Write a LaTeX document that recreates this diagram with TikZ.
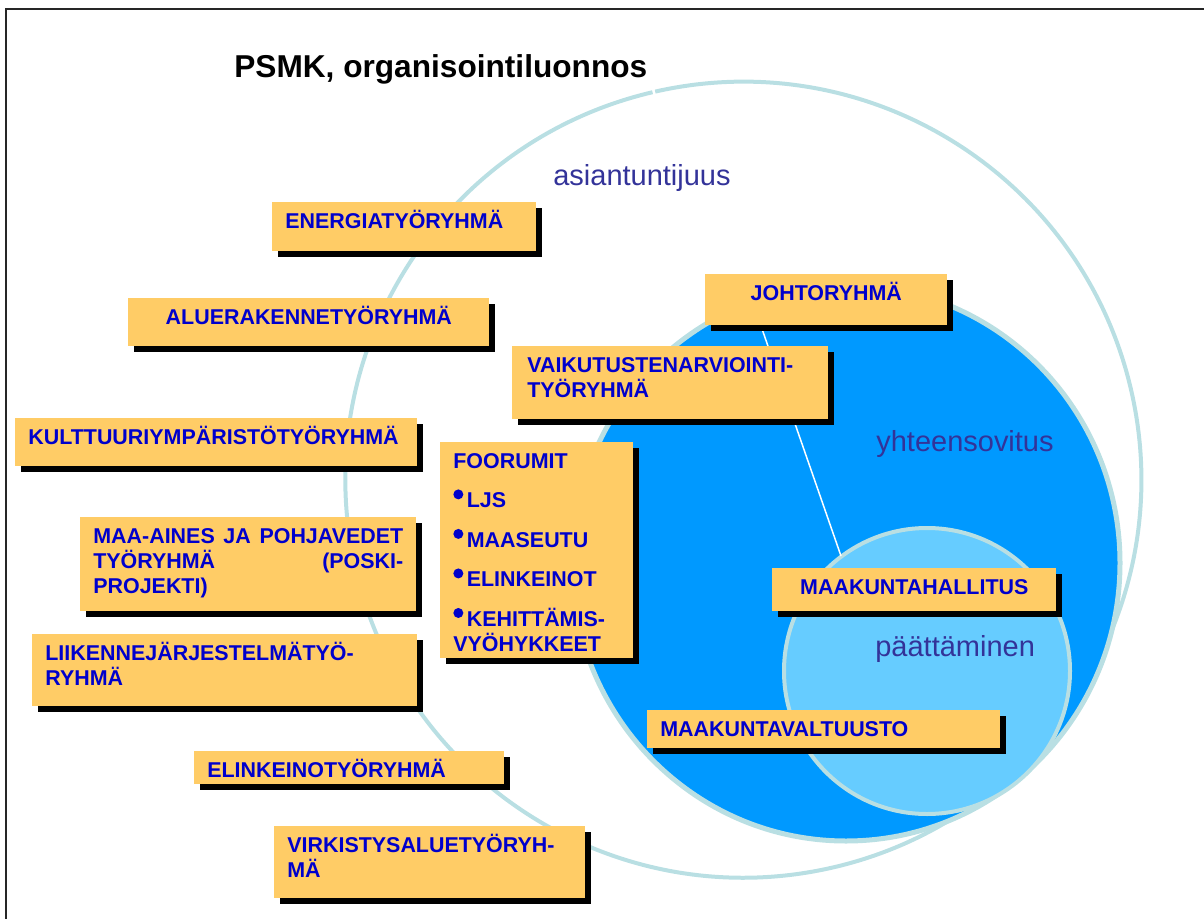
\documentclass[tikz,border=0pt]{standalone}
\usepackage{fontspec}
\setmainfont{Liberation Sans}
\usetikzlibrary{shadows}
\usepackage{xcolor}

\definecolor{boxorange}{RGB}{255,204,102}
\definecolor{boxtext}{RGB}{0,0,204}
\definecolor{ringteal}{RGB}{185,223,227}
\definecolor{midblue}{RGB}{0,153,255}
\definecolor{paleblue}{RGB}{102,204,255}
\definecolor{labelblue}{RGB}{51,51,153}

\tikzset{
  grp/.style={rectangle, fill=boxorange, text=boxtext, anchor=north west,
    font=\fontsize{12.2}{14.3}\selectfont\bfseries, align=left,
    inner xsep=0.26cm, inner ysep=0pt, text height=0.52cm,
    general shadow={fill=black, opacity=1, shadow xshift=0.12cm, shadow yshift=-0.12cm}},
  area/.style={text=labelblue, font=\fontsize{16.5}{18}\selectfont,
    anchor=base west, inner sep=0pt},
  ring/.style={draw=ringteal, line width=0.08cm}
}
\newcommand\fbul{\tikz[x=1cm, y=1cm, baseline=0pt]\fill[boxtext] (0.1,0.27) circle (0.1);\kern0.07cm}

\begin{document}
\begin{tikzpicture}[x=0.02cm, y=-0.02cm]
  \useasboundingbox (0,0) rectangle (1204,919);
  % frame
  \draw[line width=0.04cm, black!85] (6,919) -- (6,9) -- (1204,9);

  % circles
  \draw[ring] (655.2,91.6) arc[start angle=-102.8, end angle=256.8, radius=398];
  \draw[ring, fill=midblue, line width=0.1cm] (846,563) ellipse [x radius=274, y radius=278];
  \draw[ring, fill=paleblue] (927,671) circle (143);

  % link johtoryhma -- paattaminen
  \coordinate (jstart) at (761,326);
  \coordinate (rim) at (841,556);
  \draw[white, line width=0.03cm] (jstart) -- (rim);

  % groups
  \node[grp, text width=4.76cm, text depth=0.46cm] (energia) at (272,202) {ENERGIATYÖRYHMÄ};
  \node[grp, text width=6.7cm, text depth=0.44cm, align=center] (alue) at (128,298) {ALUERAKENNETYÖRYHMÄ};
  \node[grp, text width=7.52cm, text depth=0.44cm] (kulttuuri) at (15,418) {KULTTUURIYMPÄRISTÖTYÖRYHMÄ};
  \node[grp, text width=6.2cm, text depth=1.36cm] (maa) at (80,517)
    {MAA-AINES\hfill JA\hfill POHJAVEDET\\TYÖRYHMÄ\hfill(POSKI-\\PROJEKTI)};
  \node[grp, text width=7.18cm, text depth=0.92cm] (liikenne) at (32,634) {LIIKENNEJÄRJESTELMÄTYÖ-\\RYHMÄ};
  \node[grp, text width=5.68cm, text depth=0.14cm] (elinkeino) at (194,751) {ELINKEINOTYÖRYHMÄ};
  \node[grp, text width=5.7cm, text depth=0.92cm] (virkistys) at (274,826) {VIRKISTYSALUETYÖRYH-\\MÄ};
  \node[grp, text width=4.32cm, text depth=0.5cm, align=center] (johto) at (705,274) {JOHTORYHMÄ};
  \node[grp, text width=5.72cm, text depth=0.94cm, inner xsep=0.3cm] (vaikutus) at (512,346)
    {VAIKUTUSTENARVIOINTI-\\TYÖRYHMÄ};
  \node[grp, text width=3.34cm, text depth=3.8cm] (foorumit) at (440,442)
    {FOORUMIT\\[8.2pt]\fbul LJS\\[8.2pt]\fbul MAASEUTU\\[8.2pt]\fbul ELINKEINOT\\[8.2pt]\fbul KEHITTÄMIS-\\VYÖHYKKEET};
  \node[grp, text width=5.16cm, text depth=0.34cm, align=center] (hallitus) at (772,568) {MAAKUNTAHALLITUS};
  \node[grp, text width=6.54cm, text depth=0.24cm] (valtuusto) at (647,710) {MAAKUNTAVALTUUSTO};

  % areas
  \node[area] (asiantuntijuus) at (553,185) {asiantuntijuus};
  \node[area] (yhteensovitus) at (876,451) {yhteensovitus};
  \node[area] (paattaminen) at (875,656) {päättäminen};

  % title
  \node[anchor=base west, inner sep=0pt, font=\fontsize{18}{20}\selectfont\bfseries] (title) at (234,78)
    {PSMK, organisointiluonnos};
\end{tikzpicture}
\end{document}
